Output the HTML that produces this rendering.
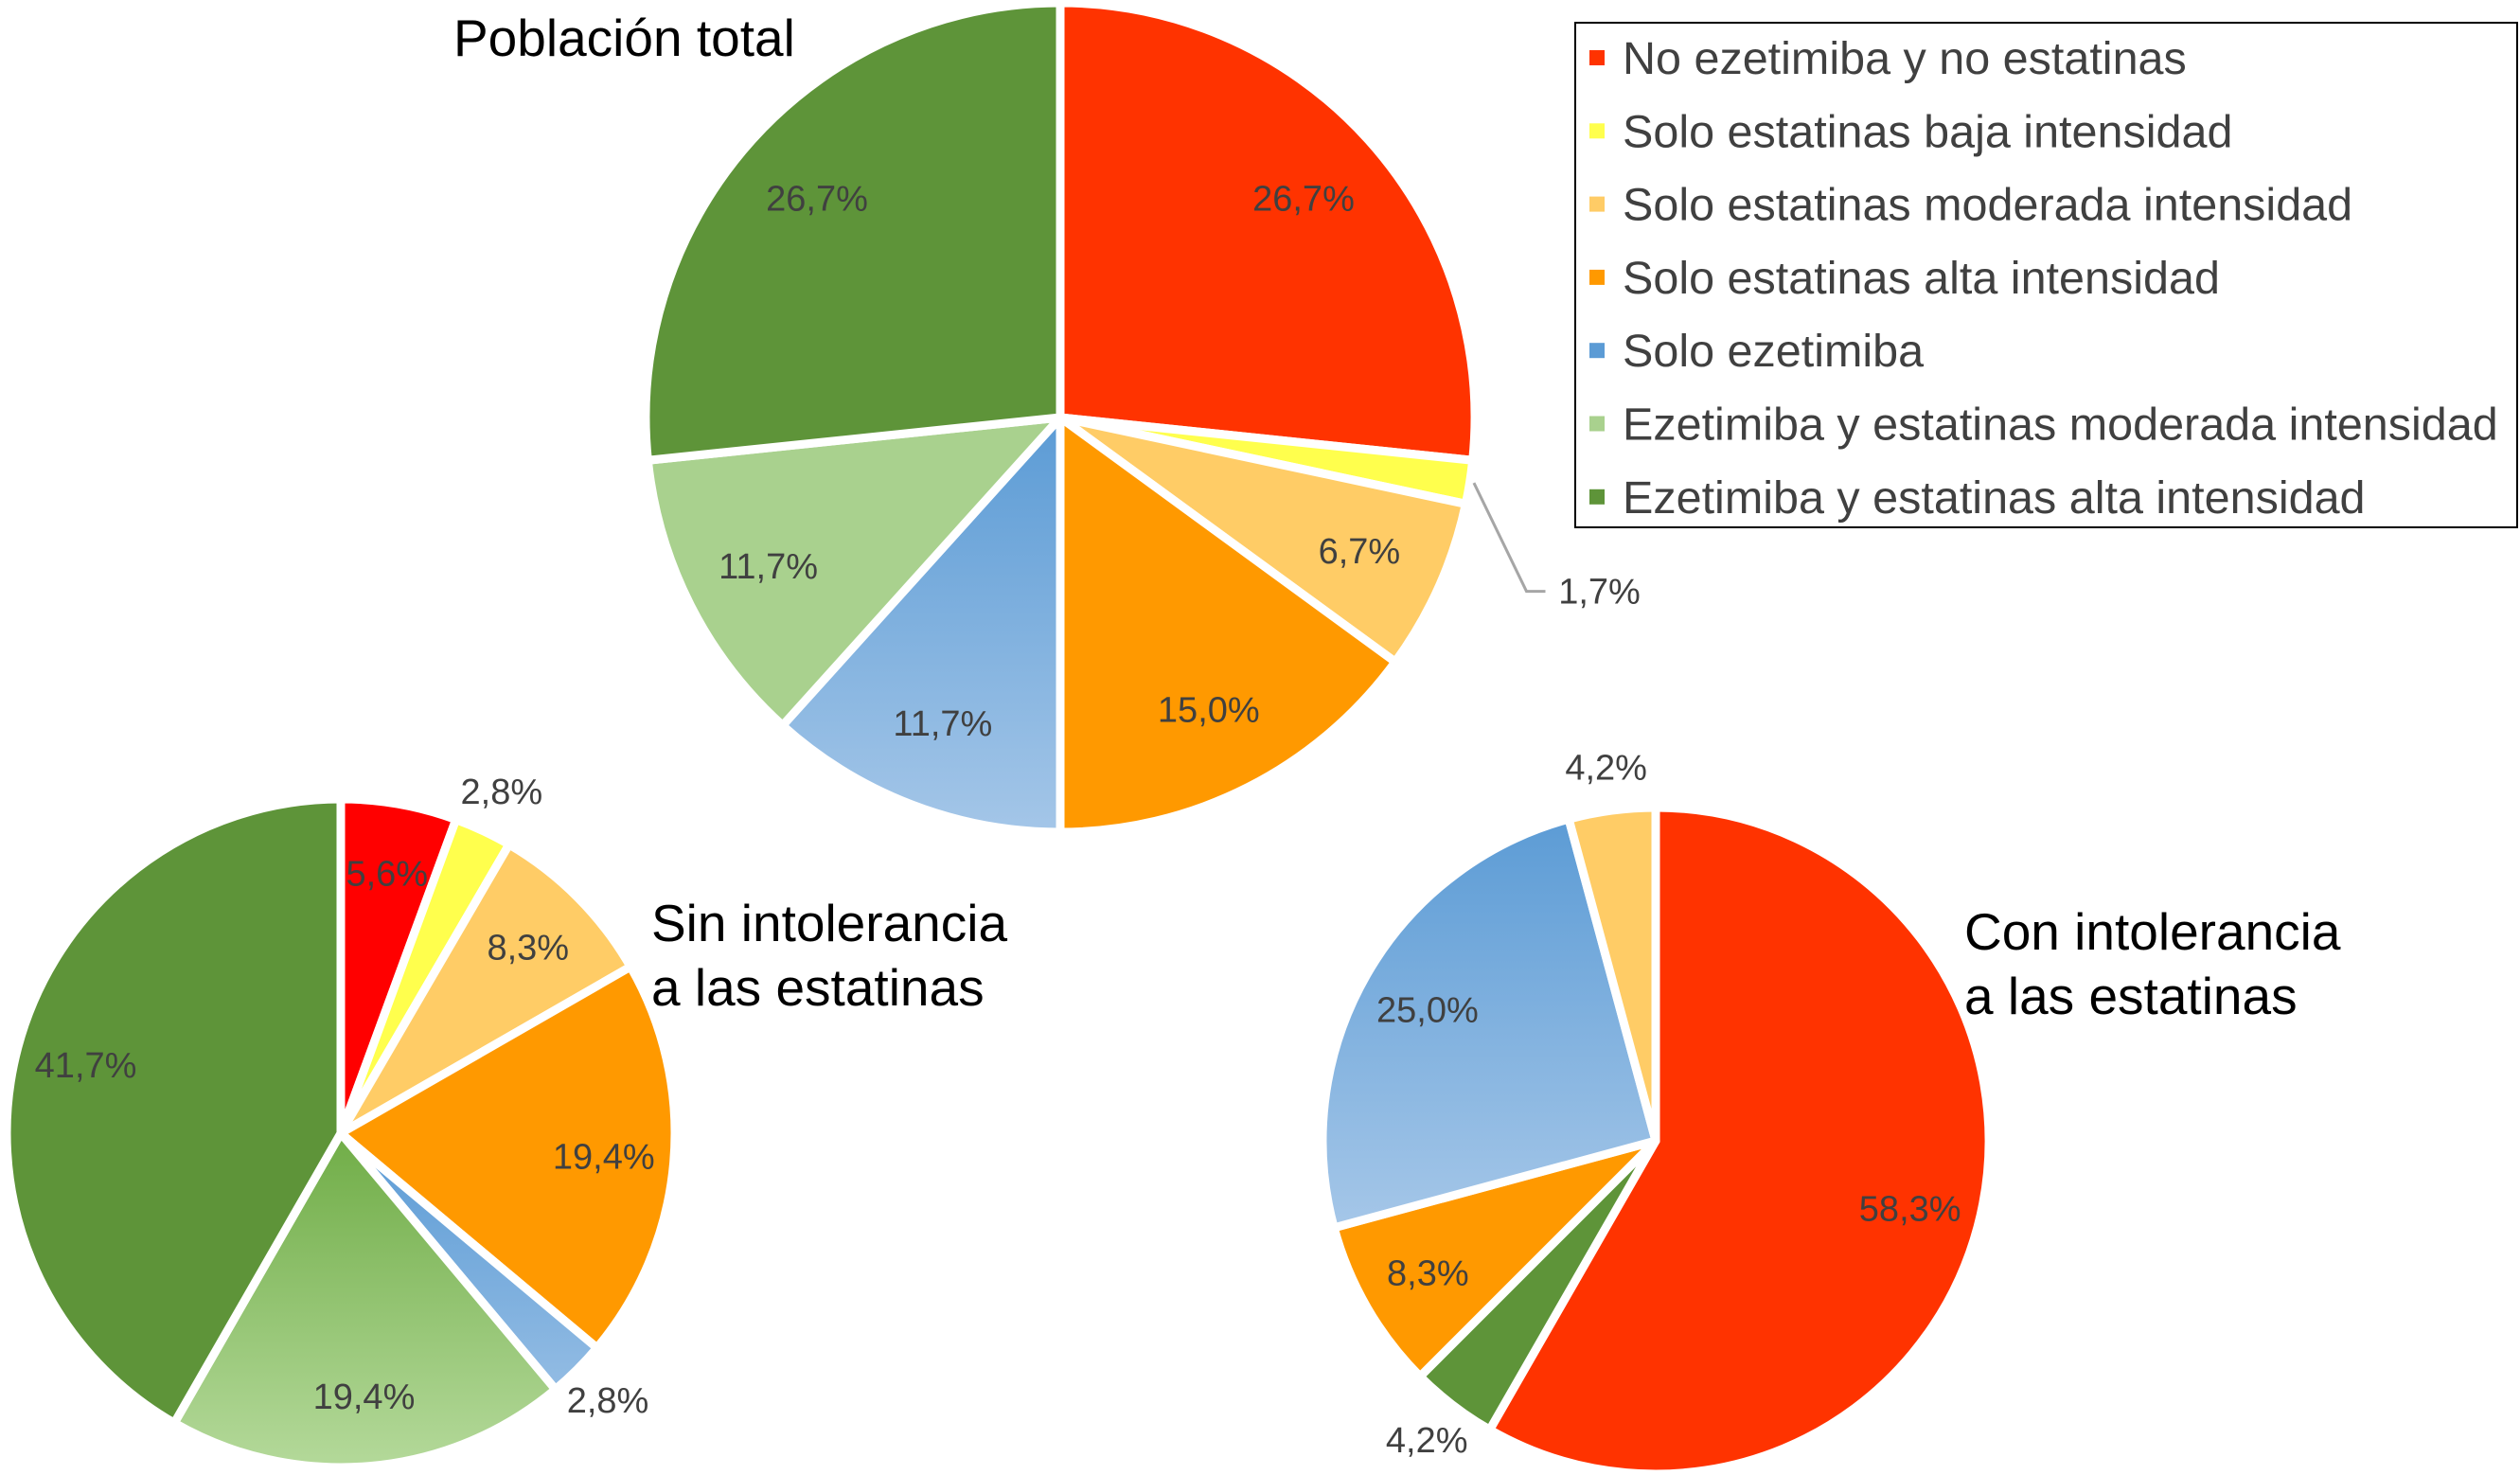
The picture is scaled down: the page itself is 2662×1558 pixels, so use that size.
<!DOCTYPE html>
<html><head><meta charset="utf-8"><style>
html,body{margin:0;padding:0;background:#fff;}
svg{display:block;font-family:"Liberation Sans",Arial,sans-serif;}
</style></head><body>
<svg id="chart" width="2662" height="1558" viewBox="0 0 2662 1558" xmlns="http://www.w3.org/2000/svg">
<defs>
<linearGradient id="blueG1" gradientUnits="userSpaceOnUse" x1="0" y1="441" x2="0" y2="879"><stop offset="0" stop-color="#5b9bd5"/><stop offset="1" stop-color="#a4c6e8"/></linearGradient>
<linearGradient id="blueG3" gradientUnits="userSpaceOnUse" x1="0" y1="860" x2="0" y2="1290"><stop offset="0" stop-color="#5b9bd5"/><stop offset="1" stop-color="#a4c6e8"/></linearGradient>
<linearGradient id="blueG2" gradientUnits="userSpaceOnUse" x1="0" y1="1197" x2="0" y2="1550"><stop offset="0" stop-color="#5b9bd5"/><stop offset="1" stop-color="#a4c6e8"/></linearGradient>
<linearGradient id="greenG2" gradientUnits="userSpaceOnUse" x1="0" y1="1197" x2="0" y2="1550"><stop offset="0" stop-color="#70ad47"/><stop offset="1" stop-color="#b4d99a"/></linearGradient>
</defs>
<g id="pies"></g>
<text x="479" y="59" font-size="55" fill="#000">Población total</text>
<text x="688" y="994" font-size="55" fill="#000">Sin intolerancia</text>
<text x="688" y="1062" font-size="55" fill="#000">a las estatinas</text>
<text x="2075" y="1003" font-size="55" fill="#000">Con intolerancia</text>
<text x="2075" y="1071" font-size="55" fill="#000">a las estatinas</text>
<g>
<rect x="1664" y="24" width="995" height="533" fill="#fff" stroke="#000" stroke-width="2"/>
<g id="legendItems"></g>
</g>
</svg>
<script>
const NS="http://www.w3.org/2000/svg";
const legendLabels=["No ezetimiba y no estatinas","Solo estatinas baja intensidad","Solo estatinas moderada intensidad","Solo estatinas alta intensidad","Solo ezetimiba","Ezetimiba y estatinas moderada intensidad","Ezetimiba y estatinas alta intensidad"];
const legendColors=["#ff3300","#ffff4d","#ffcc66","#ff9900","#5b9bd5","#a9d18e","#5e9439"];
// Pie 1: Población total
const p1Values=[26.7,1.7,6.7,15.0,11.7,11.7,26.7];
const p1Labels=["26,7%","1,7%","6,7%","15,0%","11,7%","11,7%","26,7%"];
const p1Colors=["#ff3300","#ffff4d","#ffcc66","#ff9900","url(#blueG1)","#a9d18e","#5e9439"];
const p1Outside=[0,1,0,0,0,0,0];
// Pie 2: Sin intolerancia
const p2Values=[5.6,2.8,8.3,19.4,2.8,19.4,41.7];
const p2Labels=["5,6%","2,8%","8,3%","19,4%","2,8%","19,4%","41,7%"];
const p2Colors=["#ff0000","#ffff4d","#ffcc66","#ff9900","url(#blueG2)","url(#greenG2)","#5e9439"];
const p2Outside=[0,1,0,0,1,0,0];
// Pie 3: Con intolerancia
const p3Values=[58.3,4.2,8.3,25.0,4.2];
const p3Labels=["58,3%","4,2%","8,3%","25,0%","4,2%"];
const p3Colors=["#ff3300","#5e9439","#ff9900","url(#blueG3)","#ffcc66"];
const p3Outside=[0,1,0,0,1];

const g=document.getElementById('pies');
function pt(cx,cy,r,a){return [cx+r*Math.sin(a),cy-r*Math.cos(a)];}
function drawPie(name,cx,cy,r,vals,labels,colors,outside,leader){
  const tot=vals.reduce((a,b)=>a+b,0);
  let a0=0;
  vals.forEach((v,i)=>{
    const a1=a0+v/tot*2*Math.PI;
    const p0=pt(cx,cy,r,a0),p1=pt(cx,cy,r,a1);
    const large=(a1-a0)>Math.PI?1:0;
    const path=document.createElementNS(NS,'path');
    path.setAttribute('d',`M${cx},${cy}L${p0[0]},${p0[1]}A${r},${r} 0 ${large} 1 ${p1[0]},${p1[1]}Z`);
    path.setAttribute('fill',colors[i]);
    path.setAttribute('stroke','#fff');
    path.setAttribute('stroke-width','9');
    path.setAttribute('stroke-linejoin','round');
    
    
    g.appendChild(path);
    const mid=(a0+a1)/2;
    let lp;
    if(outside[i]){
      if(leader){
        const e=pt(cx,cy,r*1.01,mid),k=pt(cx,cy,r*1.2,mid+0.2);
        const ln=document.createElementNS(NS,'polyline');
        ln.setAttribute('points',`${e[0]},${e[1]} ${k[0]},${k[1]} ${k[0]+20},${k[1]}`);
        ln.setAttribute('fill','none');ln.setAttribute('stroke','#a6a6a6');ln.setAttribute('stroke-width','3');
        
        
        g.appendChild(ln);
        lp=[k[0]+22+55,k[1]];
      } else lp=pt(cx,cy,r*1.13,mid);
    } else lp=pt(cx,cy,r*0.79,mid);
    const t=document.createElementNS(NS,'text');
    t.setAttribute('x',lp[0]);t.setAttribute('y',lp[1]+13);
    t.setAttribute('text-anchor','middle');t.setAttribute('font-size','38');t.setAttribute('fill','#404040');
    t.textContent=labels[i];
    
    
    g.appendChild(t);
    a0=a1;
  });
}
drawPie('pie-total',1120,441,438,p1Values,p1Labels,p1Colors,p1Outside,true);
drawPie('pie-sin',360,1197,353,p2Values,p2Labels,p2Colors,p2Outside,false);
drawPie('pie-con',1749,1205,352,p3Values,p3Labels,p3Colors,p3Outside,false);

const lg=document.getElementById('legendItems');
legendLabels.forEach((l,i)=>{
  const y=61+i*77.3;
  const r=document.createElementNS(NS,'rect');
  r.setAttribute('x',1679);r.setAttribute('y',y-8);r.setAttribute('width',16);r.setAttribute('height',16);
  r.setAttribute('fill',legendColors[i]);
  
  
  lg.appendChild(r);
  const t=document.createElementNS(NS,'text');
  t.setAttribute('x',1714);t.setAttribute('y',y+17);t.setAttribute('font-size','48.5');t.setAttribute('fill','#404040');
  t.textContent=l;
  
  
  lg.appendChild(t);
});
</script>
</body></html>
